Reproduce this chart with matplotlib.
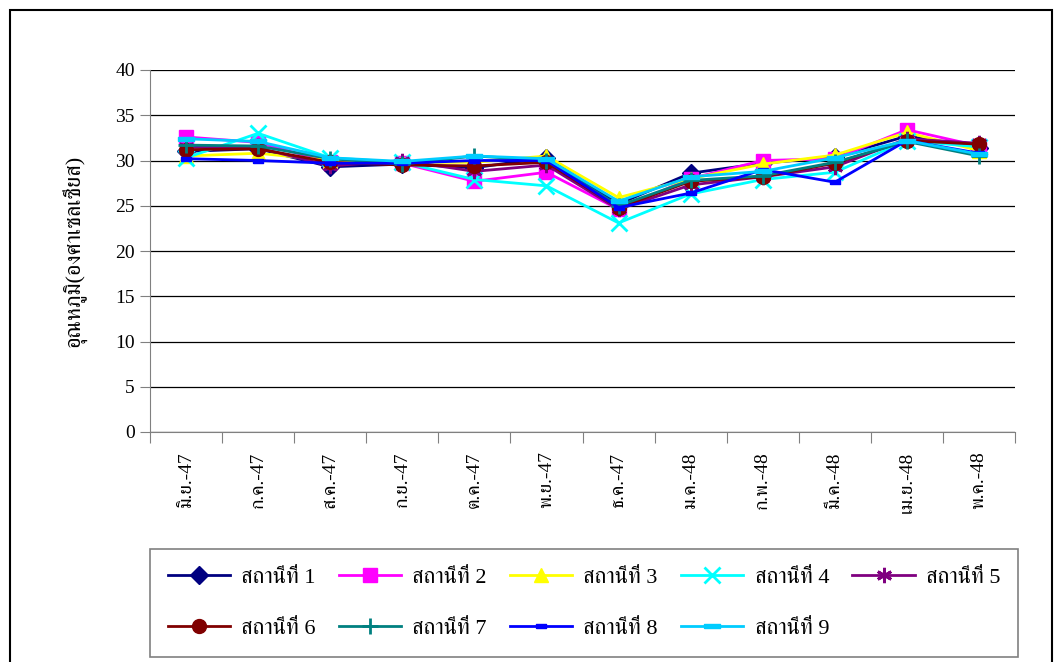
import matplotlib
matplotlib.use('Agg')
import matplotlib.pyplot as plt
from matplotlib import font_manager
from matplotlib.ft2font import FT2Font
from matplotlib.patches import Rectangle

# ข้อมูลอุณหภูมิรายเดือน
months = ['มิ.ย.-47', 'ก.ค.-47', 'ส.ค.-47', 'ก.ย.-47', 'ต.ค.-47', 'พ.ย.-47',
          'ธ.ค.-47', 'ม.ค.-48', 'ก.พ.-48', 'มี.ค.-48', 'เม.ย.-48', 'พ.ค.-48']
station_names = ['สถานีที่ 1', 'สถานีที่ 2', 'สถานีที่ 3', 'สถานีที่ 4', 'สถานีที่ 5',
                 'สถานีที่ 6', 'สถานีที่ 7', 'สถานีที่ 8', 'สถานีที่ 9']
s1 = [31.0, 31.3, 29.3, 29.6, 29.2, 30.3, 25.2, 28.6, 29.7, 30.4, 32.7, 31.4]
s2 = [32.6, 32.0, 29.8, 29.7, 27.7, 28.7, 24.6, 28.0, 30.0, 30.2, 33.4, 31.6]
s3 = [30.5, 30.8, 30.0, 29.8, 29.8, 30.5, 25.9, 28.0, 29.6, 30.6, 33.1, 31.1]
s4 = [30.3, 33.0, 30.3, 29.8, 27.9, 27.2, 23.1, 26.3, 27.9, 28.7, 32.2, 31.5]
s5 = [31.5, 31.4, 29.4, 30.0, 28.8, 29.5, 24.6, 27.3, 28.2, 29.3, 32.4, 31.9]
s6 = [31.2, 31.3, 29.8, 29.5, 29.4, 29.8, 24.8, 27.7, 28.2, 29.7, 32.2, 31.8]
s7 = [31.7, 31.6, 30.2, 29.6, 30.5, 30.0, 25.0, 27.8, 28.3, 29.8, 32.1, 30.5]
s8 = [30.2, 30.0, 29.7, 29.7, 30.0, 30.0, 24.8, 26.4, 29.0, 27.6, 32.2, 30.8]
s9 = [32.4, 32.1, 30.3, 29.9, 30.5, 30.2, 25.5, 28.2, 28.8, 30.3, 32.2, 30.7]
series = [s1, s2, s3, s4, s5, s6, s7, s8, s9]

colors = ['#000080', '#FF00FF', '#FFFF00', '#00FFFF', '#800080',
          '#800000', '#008080', '#0000FF', '#00CCFF']
bar_small = [(-1, -0.45), (1, -0.45), (1, 0.45), (-1, 0.45), (-1, -0.45)]
bar_long = [(-1, -0.3), (1, -0.3), (1, 0.3), (-1, 0.3), (-1, -0.3)]
markers = ['D', 's', '^', 'x', (6, 2, 0), 'o', '+', bar_small, bar_long]
msizes = [9, 10, 10, 11, 11, 10, 12, 7, 11]


# หาฟอนต์ที่มีอักษรไทย
def find_thai_font():
    found = []
    for f in font_manager.fontManager.ttflist:
        try:
            cmap = FT2Font(f.fname).get_charmap()
        except Exception:
            continue
        if 0x0E2A in cmap:
            found.append(f.name)
    serif = [n for n in found if 'Serif' in n]
    if serif:
        return serif[0]
    if found:
        return found[0]
    return None


thai = find_thai_font()
fams = ['Liberation Serif', 'DejaVu Serif']
if thai:
    fams = ['Liberation Serif', thai, 'DejaVu Sans']
plt.rcParams['font.family'] = fams

fig = plt.figure(figsize=(10.56, 6.62), dpi=100)
fig.patches.append(Rectangle((10 / 1056, -0.1), 1042 / 1056, 1 - 10 / 662 + 0.1,
                             transform=fig.transFigure, fill=False,
                             edgecolor='black', linewidth=1.5))
ax = fig.add_axes([150 / 1056, 1 - 432 / 662, 865 / 1056, 362 / 662])

x = list(range(len(months)))
lines = []
for i, vals in enumerate(series):
    ln, = ax.plot(x, vals, color=colors[i], linewidth=2, marker=markers[i], markersize=msizes[i],
                  markerfacecolor=colors[i], markeredgecolor=colors[i],
                  markeredgewidth=2 if i in (3, 4, 6) else 1,
                  label=station_names[i], zorder=3)
    lines.append(ln)

ax.set_xlim(-0.5, len(months) - 0.5)
ax.set_ylim(0, 40)
ax.set_yticks(range(0, 41, 5))
ax.yaxis.grid(True, color='black', linewidth=0.9)
ax.set_axisbelow(True)
for sp in ['top', 'right']:
    ax.spines[sp].set_visible(False)
ax.spines['left'].set_color('#808080')
ax.spines['bottom'].set_color('#808080')
ax.tick_params(axis='y', direction='out', length=7, color='#808080', labelsize=14, pad=4)

ax.set_xticks([i - 0.5 for i in range(len(months) + 1)], minor=False)
ax.set_xticklabels([])
ax.set_xticks(x, minor=True)
ax.set_xticklabels(months, minor=True, rotation=90, fontsize=14)
ax.tick_params(axis='x', which='major', direction='out', length=8, color='#808080')
ax.tick_params(axis='x', which='minor', length=0, pad=14)

ax.set_ylabel('อุณหภูมิ(องศาเซลเซียส)', fontsize=16, labelpad=20)

# legend เรียงแถวละ 5 เหมือนต้นฉบับ
order = [0, 5, 1, 6, 2, 7, 3, 8, 4]
leg = fig.legend([lines[k] for k in order], [station_names[k] for k in order],
                 loc='lower left', bbox_to_anchor=(150 / 1056, 1 - 657 / 662, 868 / 1056, 112 / 662),
                 ncol=5, mode='expand', fontsize=16, frameon=True, fancybox=False,
                 edgecolor='#606060', handlelength=2.8, borderpad=0.8, labelspacing=1.4,
                 columnspacing=0.4, handletextpad=0.5, borderaxespad=0)
leg.get_frame().set_linewidth(1.2)

fig.savefig('out.png', dpi=100)
